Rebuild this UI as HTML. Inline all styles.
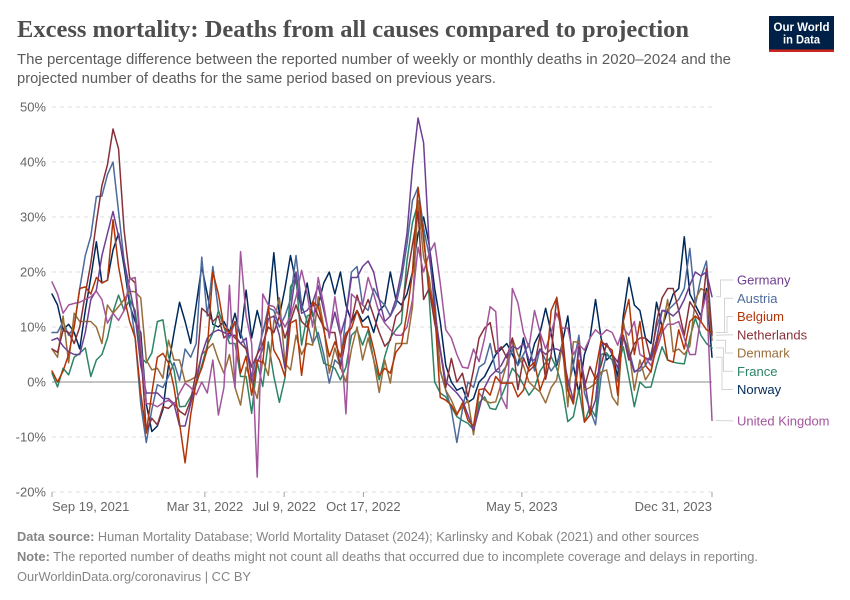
<!DOCTYPE html>
<html lang="en">
<head>
<meta charset="utf-8">
<title>Excess mortality chart</title>
<style>
html,body{margin:0;padding:0;background:#fff;}
svg{display:block;font-family:"Liberation Sans",sans-serif;}
</style>
</head>
<body>
<svg id="chart" width="850" height="600" viewBox="0 0 850 600" xmlns="http://www.w3.org/2000/svg">
  <rect x="0" y="0" width="850" height="600" fill="#ffffff"/>
  <text x="17" y="37" font-family="'Liberation Serif',serif" font-weight="700" font-size="24" fill="#4e4e4e" textLength="672" lengthAdjust="spacingAndGlyphs">Excess mortality: Deaths from all causes compared to projection</text>
  <text x="17" y="64" font-size="14.5" fill="#5b5b5b" textLength="714" lengthAdjust="spacingAndGlyphs">The percentage difference between the reported number of weekly or monthly deaths in 2020–2024 and the</text>
  <text x="17" y="83" font-size="14.5" fill="#5b5b5b" textLength="479" lengthAdjust="spacingAndGlyphs">projected number of deaths for the same period based on previous years.</text>

  <g>
    <rect x="769" y="16" width="65" height="36" fill="#002147"/>
    <rect x="769" y="49.5" width="65" height="2.5" fill="#ce261e"/>
    <text x="801.5" y="31" text-anchor="middle" font-size="12" font-weight="700" fill="#ffffff" textLength="56" lengthAdjust="spacingAndGlyphs">Our World</text>
    <text x="801.5" y="43.5" text-anchor="middle" font-size="12" font-weight="700" fill="#ffffff" textLength="37" lengthAdjust="spacingAndGlyphs">in Data</text>
  </g>

  <g id="grid"></g>
  <g id="yticks"></g>
  <g id="xticks"></g>
  <g id="series"></g>
  <g id="connectors"></g>
  <g id="labels"></g>

  <text x="17" y="541" font-size="13" fill="#858585" textLength="682" lengthAdjust="spacingAndGlyphs"><tspan font-weight="700">Data source:</tspan> Human Mortality Database; World Mortality Dataset (2024); Karlinsky and Kobak (2021) and other sources</text>
  <text x="17" y="561" font-size="13" fill="#858585" textLength="741" lengthAdjust="spacingAndGlyphs"><tspan font-weight="700">Note:</tspan> The reported number of deaths might not count all deaths that occurred due to incomplete coverage and delays in reporting.</text>
  <text x="17" y="581" font-size="13" fill="#858585" textLength="234" lengthAdjust="spacingAndGlyphs">OurWorldinData.org/coronavirus | CC BY</text>
</svg>

<script>
const startDate = "2021-09-19";
const endDate = "2023-12-31";
const weeksPerStep = 7;

const yTicks = [50, 40, 30, 20, 10, 0, -10, -20];
const xTickDates = ["2021-09-19", "2022-03-31", "2022-07-09", "2022-10-17", "2023-05-05", "2023-12-31"];
const xTickLabels = ["Sep 19, 2021", "Mar 31, 2022", "Jul 9, 2022", "Oct 17, 2022", "May 5, 2023", "Dec 31, 2023"];

const norway = [
16,14,9.5,10.5,9,6,13,19,25.5,18,
18.5,24,27,21,14,11,9,-4,-9,-8,
-5,3,9,14.5,11,7,14,21,16,10.5,
10,11,9,12.5,8,16.7,8,13,9,13,
23.5,12,17,23,18,13,18,12,14,18,
20,16,20,14,11,13,11,12,9,13,
14,20,15,14,16,20,27,30,25,17,
11,3,0,-1.5,-1,-3.7,-3,0,1,3,
5,6,7,5,3,8,3,7,9,13.4,
9,3,7,12,3,-2,5,8,15,8,
4,5,1,12,19,14,13,8,7,14.5,
10,13,16,17,26.4,16,14,12,17,4.5];

const austria = [
9,9,11,8.5,10,17,23,26.5,33.7,33.8,
37.7,40,31,22,15,8,-4,-11,-5,-0.5,
-1,1,3.5,0.3,6,4.5,7,22.7,12,21,
13,10,8,11,9,6,1,5,9,13.5,
13,10,12,15,23,14,11,7,9,5,
-0.2,4,3,12,20,21,14,13,17,15,
14,12,14,18.5,25,33,35.4,28,23,15,
2,-1.5,-5,-11,-5,0,-1,2.7,3.4,7,
2,1.6,3,6,3,5,7,2,6,4,
2,3.5,6,-1,3,8.5,-2,-5,-7.8,1,
5,4,0,8,6,2,2,3,5,10,
13,13,14,15,17,24.3,14,19,22,9];

const france = [
1.6,-0.9,2.5,1.3,4.5,5.2,6.2,1,4,5,
8,12.7,15.8,13,15,13,4.5,3.5,5.3,11,
11.3,4.6,2.2,-4.5,-4.4,-2.7,-0.5,3,6.7,8.9,
13,10,7,7,1,1,-5.7,3.6,-0.8,7.3,
1,-3.7,0.7,17.3,19,6.7,12,12.5,7.6,3.4,
3,2.5,0.4,2.7,8.5,9.5,6.7,9.5,4,0.4,
4.6,8,9.5,10.7,22,29,32.5,27,15.5,0,
-2,-2.7,-4.5,-6.3,-7,-7.5,-8.7,-3.8,-2.7,-4.8,
-5,-2.7,-0.2,2.5,1.3,-0.5,-2.4,-1,2,3.5,
4.6,2.5,-1,-7.2,-6.3,-1.4,-7.3,-4.5,-6.3,5,
5.3,4,2.7,6.4,1,-4.5,0,-1,-0.9,3,
6.4,4,3.6,3.4,3.3,8,11.6,8.5,7,6.2];

const denmark = [
6,4.5,12,3.5,12.5,11,11,11,10,7,
14,12.5,13.7,15,16.5,16.4,15.3,4,2.2,2.5,
0.7,7.6,4,4,0,0.4,1,5,6,7,
4,1.6,5,-1,-4.2,2.7,0,-3,4,1.2,
11,15.3,3.4,2.2,8.5,5,7,6.7,15.5,10,
1.6,6.2,2.7,0,6,10,4,8,4,-1.9,
4,-0.2,7,7,7,13.7,33,22.7,19,12,
2.2,-1.5,-3.3,-5.7,-4.5,-3.3,-9.6,-2,-3.3,-3.8,
-3.6,-0.2,3.4,8,5,3,0,-1,-1.8,-3.8,
-1,0.4,7,-4.5,7.3,7.3,-1.5,-1,-0.2,1.8,
2.2,-2.7,-4.2,11,6,-1.5,4,0.4,2,7.6,
9.5,15,5.5,6,5,6.5,15,17,16.4,7.6];

const netherlands = [
6,5.4,9.4,9,7,10,16,21.6,29,35.7,
39.5,46,42.4,27.6,19,18,6,-9,-6.6,-7.8,
-4.5,-4.8,-3.8,-5.3,-6,-3.3,1.8,13.4,12.5,11,
12,8,9,8,7,6,2.7,5,7,10,
9,12,8,11,14,11,10,14.4,12,10,
9,9,2.5,8,11,15.8,12.5,15,12,9,
6.5,7.6,12,13,19,25,31,15,17,10.7,
5.8,-1,4.3,0,1.6,-2.7,2.2,8,9.8,10.8,
5.4,6.4,4.4,8,-1.4,4.4,2,3,8.5,0.5,
5,15.4,9,-1.5,-3.8,7,-1,2.8,0.5,3,
7,5,3.6,8.5,4,7,8,8,4,11,
15.3,17,17,13,8.5,14.6,13,11,20.7,8.5];

const germany = [
7.6,8,6.5,5.5,5,5,9,15,16.7,23,
27,31,26.5,22,17,12,3,-2,-2,-2,
-3,-3,-4,-8,-8,-4,0,5,8,9,
9.5,9,8.5,8.5,7,8,0,3.5,6,11.5,
12,8.5,2.5,13,20,12.5,13,14.5,17.5,13,
8.5,12.7,8.5,12,19,19,21,22,20,15,
11,12,15,20,27,39,48,43.5,25,13,
6,0,-1,-2,-3.3,-6,-8.8,-5,-1,1,
2,3,5,6.5,6,7,4,4,6,5,
6,6,5.5,0.5,-3.3,6,0.5,-6,-3.3,6.7,
7,5,2.5,8.5,5,1.8,2.5,4.4,4,7.6,
13,12.7,12,13,15,17.6,20,19.3,20,15.5];

const unitedKingdom = [
18.2,16,12.5,14,14.3,14.5,15,15.5,16.5,15,
10.7,12.5,11.2,13,18.7,19,7,-3.9,-4,-4.5,
-3.8,-3.3,-4.2,-2,-0.2,-1,-2.3,0,-2,4,
-6,-1,17.6,-1,23.7,12,7,-17.3,16,14,
13.7,12,10,12,15.5,20.3,16,10,19,14,
8,15.5,9,-5.8,16,15,14,19,16,12.5,
10.7,9.5,8.5,8.5,10,15,24.5,20,23.4,25.3,
18,9.5,8,5,2.7,2.5,6,3.7,8,13.7,
12.8,-2.7,-4.8,17,14.4,9,6.3,13,9,6,
9,12.5,9.8,9.8,5,6.8,5.8,8,9.5,8.5,
9.5,9,6.7,9.8,8.5,11,5,4.4,3,5.8,
9,10.5,10.5,11,8,5,5,12,16,-7];

const belgium = [
2,0,2,5,10,17,17.3,16,19,18,
18.5,29.5,21,15.5,11,8,-2,-9.3,-2,4.5,
5.2,3.5,-1,-7.5,-14.7,-6,0,2.5,6,20,
16,10,9,11,1.6,4.7,-2.4,4,3.5,13.7,
5.8,4,1,10.7,11.3,1.2,8.9,14.6,13.7,9.5,
4.6,7.3,4.6,8.9,9.8,13,10,10,6,1.2,
2.5,1.6,5.4,6.7,12.5,20,35.4,26,17,13,
-2.8,-3.3,-4.2,-6,-3.8,-7,-8,-1.4,-1.2,-2.4,
1,-0.2,-0.2,-0.2,-2.7,-1.5,2.7,3.6,-1.5,1.3,
13,15.3,7,-1.5,-4,4,-7.3,-6,2,7.5,
6.5,5.8,-2.4,11,15,5,11,3,1.8,6.7,
10.5,4,3.6,9.5,6,11,12,11,9.5,9];

const seriesDrawOrder = [
  ["norway", norway, "#00295b"],
  ["austria", austria, "#4c6a9c"],
  ["france", france, "#2c8465"],
  ["denmark", denmark, "#996d39"],
  ["netherlands", netherlands, "#883039"],
  ["germany", germany, "#6d3e91"],
  ["united-kingdom", unitedKingdom, "#a2559c"],
  ["belgium", belgium, "#b13507"]
];

const legendNames = ["Germany", "Austria", "Belgium", "Netherlands", "Denmark", "France", "Norway", "United Kingdom"];
const legendValues = [germany, austria, belgium, netherlands, denmark, france, norway, unitedKingdom];
const legendColors = ["#6d3e91", "#4c6a9c", "#b13507", "#883039", "#996d39", "#2c8465", "#00295b", "#a2559c"];
const legendSlots = [0, 1, 2, 3, 4, 5, 6, 7.72];
const connectorElbows = [720.5, 724.5, 727, 0, 725.5, 723.5, 722, 0];

const NS = "http://www.w3.org/2000/svg";
const plotLeft = 52, plotRight = 712;
const y50 = 107, y0 = 382, pxPerPct = 5.5;
const DAY = 86400000;
const t0 = Date.parse(startDate), t1 = Date.parse(endDate);

function xScaleTime(t) { return plotLeft + (t - t0) / (t1 - t0) * (plotRight - plotLeft); }
function xScaleWeek(i) { return xScaleTime(t0 + i * weeksPerStep * DAY); }
function yScale(v) { return y0 - v * pxPerPct; }
function make(tag, attrs, parent, text) {
  const el = document.createElementNS(NS, tag);
  for (const k in attrs) el.setAttribute(k, attrs[k]);
  if (text !== undefined) el.textContent = text;
  parent.appendChild(el);
  return el;
}

const gridG = document.getElementById("grid");
const yG = document.getElementById("yticks");
const xG = document.getElementById("xticks");
const seriesG = document.getElementById("series");
const connG = document.getElementById("connectors");
const labelG = document.getElementById("labels");

yTicks.forEach(function (v) {
  const line = make("line", {
    x1: plotLeft, x2: plotRight, y1: yScale(v), y2: yScale(v),
    stroke: v === 0 ? "#a1a1a1" : "#dddddd",
    "stroke-width": v === 0 ? 1.3 : 1,
    "stroke-dasharray": v === 0 ? "none" : "4 4"
  }, gridG);
  
  
  const lab = make("text", {
    x: 46, y: yScale(v) + 4.5, "text-anchor": "end", "font-size": 13, fill: "#666666"
  }, yG, v + "%");
  
  
});

xTickDates.forEach(function (d, i) {
  const x = xScaleTime(Date.parse(d));
  const tick = make("line", { x1: x, x2: x, y1: 492, y2: 497, stroke: "#a1a1a1", "stroke-width": 1 }, xG);
  
  
  const anchor = i === 0 ? "start" : (i === xTickDates.length - 1 ? "end" : "middle");
  const lab = make("text", {
    x: x, y: 511, "text-anchor": anchor, "font-size": 13, fill: "#666666"
  }, xG, xTickLabels[i]);
  
  
});

seriesDrawOrder.forEach(function (s) {
  const pts = s[1].map(function (v, i) {
    return xScaleWeek(i).toFixed(2) + "," + yScale(v).toFixed(2);
  }).join(" ");
  const line = make("polyline", {
    points: pts, fill: "none", stroke: s[2], "stroke-width": 1.5,
    "stroke-linejoin": "round", "stroke-linecap": "round"
  }, seriesG);
  
  
});

legendNames.forEach(function (name, i) {
  const vals = legendValues[i];
  const endY = yScale(vals[vals.length - 1]);
  const labY = 280 + legendSlots[i] * 18.25;
  const elbow = connectorElbows[i];
  const pts = elbow
    ? [[716, endY], [elbow, endY], [elbow, labY], [733, labY]]
    : [[716, endY], [733, labY]];
  const conn = make("polyline", {
    points: pts.map(function (p) { return p.join(","); }).join(" "),
    fill: "none", stroke: "#d4d4d4", "stroke-width": 1
  }, connG);
  
  
  const lab = make("text", {
    x: 737, y: labY + 4.5, "font-size": 13, fill: legendColors[i]
  }, labelG, name);
  
  
});
</script>
</body>
</html>
